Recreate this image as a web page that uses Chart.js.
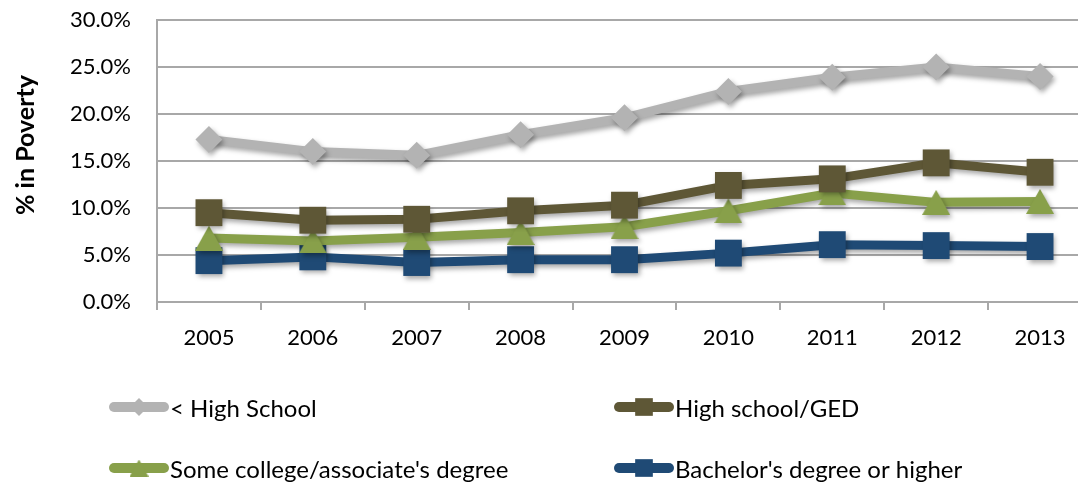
<!DOCTYPE html>
<html>
<head>
<meta charset="utf-8">
<script src="https://cdn.jsdelivr.net/npm/chart.js@4/dist/chart.umd.min.js"></script>
<style>
  html, body { margin: 0; padding: 0; background: #fff; overflow: hidden; }
  #wrap { position: relative; width: 1111px; height: 487px; }
</style>
</head>
<body>
<div id="wrap"><canvas id="chart-poverty"></canvas></div>
<script>
  var years = ["2005", "2006", "2007", "2008", "2009", "2010", "2011", "2012", "2013"];
  var seriesNames = ["< High School", "High school/GED", "Some college/associate's degree", "Bachelor's degree or higher"];
  var lessHighSchool = [17.3, 16.0, 15.6, 17.8, 19.6, 22.4, 23.9, 25.0, 24.0];
  var highSchoolGed = [9.5, 8.7, 8.8, 9.7, 10.3, 12.4, 13.1, 14.8, 13.8];
  var someCollege = [6.8, 6.5, 6.9, 7.4, 8.0, 9.7, 11.6, 10.6, 10.7];
  var bachelors = [4.4, 4.8, 4.2, 4.5, 4.5, 5.2, 6.1, 6.0, 5.9];
  var yTicks = [0, 5, 10, 15, 20, 25, 30];

  var colors = {
    gray: "#b3b3b3",
    olive: "#5e5736",
    green: "#88a04a",
    navy: "#1f4a75",
    grid: "#a8a8a8",
  };

  // excel-style triangle: centred on its bounding box, not on its circumcircle
  function triangleMarker(w, h, color) {
    var c = document.createElement("canvas");
    c.width = w;
    c.height = h;
    var g = c.getContext("2d");
    g.fillStyle = color;
    g.beginPath();
    g.moveTo(w / 2, 0);
    g.lineTo(w, h);
    g.lineTo(0, h);
    g.closePath();
    g.fill();
    return c;
  }

  var triBig = triangleMarker(28, 25, colors.green);
  var triSmall = triangleMarker(19, 17, colors.green);

  function series(label, data, color, style, radius, legendStyle, legendRadius) {
    return {
      label: label,
      data: data,
      borderColor: color,
      backgroundColor: color,
      borderWidth: 9,
      pointStyle: style,
      pointRadius: radius,
      pointBorderWidth: 0,
      pointBackgroundColor: color,
      legendStyle: legendStyle,
      legendRadius: legendRadius,
      tension: 0,
      clip: false,
    };
  }

  // fixed axis boxes so the plot lands where the original has it
  function fixBox(size) {
    return function (scale) {
      if (scale.isHorizontal()) scale.height = size;
      else scale.width = size;
      scale.paddingTop = 0;
      scale.paddingBottom = 0;
      scale.paddingLeft = 0;
      scale.paddingRight = 0;
    };
  }

  var shadowPlugin = {
    id: "shadow",
    beforeDatasetsDraw: function (chart) {
      var ctx = chart.ctx;
      ctx.save();
      ctx.shadowColor = "rgba(0,0,0,0.35)";
      ctx.shadowBlur = 5;
      ctx.shadowOffsetX = 2;
      ctx.shadowOffsetY = 3;
    },
    afterDatasetsDraw: function (chart) {
      chart.ctx.restore();
    },
  };

  var yTitlePlugin = {
    id: "yTitle",
    afterDraw: function (chart) {
      var ctx = chart.ctx;
      ctx.save();
      ctx.translate(26, 145);
      ctx.rotate(-Math.PI / 2);
      ctx.font = "bold 25px Lato";
      ctx.fillStyle = "#000";
      ctx.textAlign = "center";
      ctx.textBaseline = "middle";
      ctx.fillText("% in Poverty", 0, 0);
      ctx.restore();
    },
  };

  var legendPlugin = {
    id: "gridLegend",
    afterDraw: function (chart) {
      var ctx = chart.ctx;
      var cols = [109, 614];
      var rows = [407, 468];
      chart.data.datasets.forEach(function (ds, i) {
        var x = cols[i % 2];
        var y = rows[Math.floor(i / 2)];
        ctx.save();
        ctx.strokeStyle = ds.borderColor;
        ctx.lineWidth = 10;
        ctx.lineCap = "round";
        ctx.beginPath();
        ctx.moveTo(x + 5, y);
        ctx.lineTo(x + 55, y);
        ctx.stroke();
        ctx.fillStyle = ds.borderColor;
        Chart.helpers.drawPoint(ctx, {
          pointStyle: ds.legendStyle,
          radius: ds.legendRadius,
          borderWidth: 0,
        }, x + 30, y);
        ctx.fillStyle = "#000";
        ctx.font = "24px Lato";
        ctx.textBaseline = "alphabetic";
        ctx.textAlign = "left";
        ctx.fillText(ds.label, x + 61, y + 10);
        ctx.restore();
      });
    },
  };

  new Chart(document.getElementById("chart-poverty"), {
    type: "line",
    data: {
      labels: years,
      datasets: [
        series(seriesNames[0], lessHighSchool, colors.gray, "rectRot", 13.5, "rectRot", 9),
        series(seriesNames[1], highSchoolGed, colors.olive, "rect", 19, "rect", 12.5),
        series(seriesNames[2], someCollege, colors.green, triBig, 14, triSmall, 9),
        series(seriesNames[3], bachelors, colors.navy, "rect", 19, "rect", 12.5),
      ],
    },
    options: {
      responsive: true,
      maintainAspectRatio: false,
      animation: false,
      events: [],
      layout: { padding: { top: 20, left: 70, right: 0, bottom: 135 } },
      plugins: {
        legend: { display: false },
        tooltip: { enabled: false },
      },
      scales: {
        x: {
          offset: true,
          afterFit: fixBox(50),
          grid: {
            offset: true,
            drawOnChartArea: false,
            color: colors.grid,
            lineWidth: 2,
            tickLength: 8,
          },
          border: { color: colors.grid, width: 2 },
          ticks: { color: "#000", font: { family: "Lato", size: 22 }, padding: 15, maxRotation: 0 },
        },
        y: {
          min: 0,
          max: 30,
          afterFit: fixBox(87),
          afterBuildTicks: function (axis) {
            axis.ticks = yTicks.map(function (v) { return { value: v }; });
          },
          grid: { color: colors.grid, lineWidth: 2, drawTicks: false },
          border: { color: colors.grid, width: 2 },
          ticks: {
            color: "#000",
            font: { family: "Lato", size: 22 },
            padding: 26,
            callback: function (v) { return v.toFixed(1) + "%"; },
          },
        },
      },
    },
    plugins: [shadowPlugin, yTitlePlugin, legendPlugin],
  });
</script>
</body>
</html>
